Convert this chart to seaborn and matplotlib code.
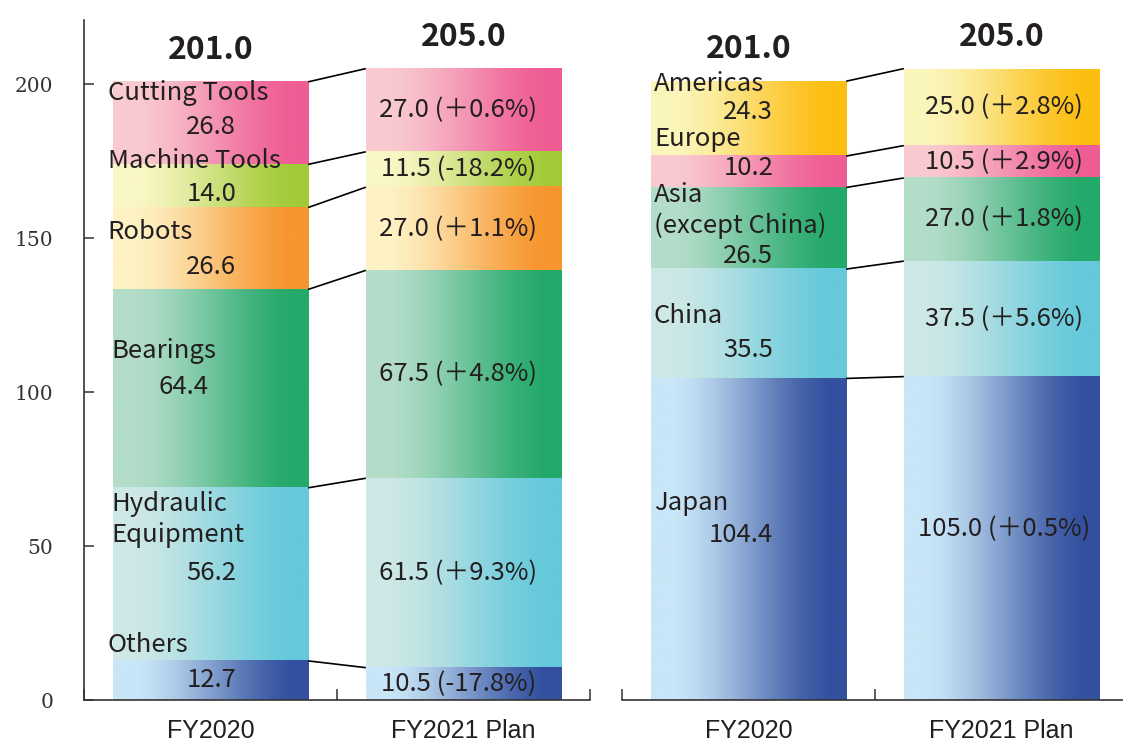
import numpy as np
import matplotlib
matplotlib.use("Agg")
import matplotlib.pyplot as plt
import matplotlib.colors as mcolors
from matplotlib.ticker import FixedLocator
import seaborn as sns

# ---------------- data ----------------
years = ["FY2020", "FY2021 Plan"]

prod_names = ["Others", "Hydraulic\nEquipment", "Bearings", "Robots", "Machine Tools", "Cutting Tools"]
prod_2020 = [12.7, 56.2, 64.4, 26.6, 14.0, 26.8]
prod_2021 = [10.5, 61.5, 67.5, 27.0, 11.5, 27.0]
prod_chg = ["-17.8%", "+9.3%", "+4.8%", "+1.1%", "-18.2%", "+0.6%"]
prod_total = [201.0, 205.0]

reg_names = ["Japan", "China", "Asia\n(except China)", "Europe", "Americas"]
reg_2020 = [104.4, 35.5, 26.5, 10.2, 24.3]
reg_2021 = [105.0, 37.5, 27.0, 10.5, 25.0]
reg_chg = ["+0.5%", "+5.6%", "+1.8%", "+2.9%", "+2.8%"]
reg_total = [201.0, 205.0]

# gradient colours (light -> saturated)
C_PINK = ("#F9CACF", "#EF5D95")
C_LIME = ("#FAF7C6", "#A2CB39")
C_ORNG = ("#FEF1C4", "#F7952E")
C_GRN = ("#B3DDC9", "#24A96A")
C_CYAN = ("#CDE8E6", "#66C9DB")
C_NAVY = ("#C9E6F8", "#33509F")
C_GOLD = ("#FBF6BB", "#FDBE12")
prod_colors = [C_NAVY, C_CYAN, C_GRN, C_ORNG, C_LIME, C_PINK]
reg_colors = [C_NAVY, C_CYAN, C_GRN, C_PINK, C_GOLD]

# ---------------- style ----------------
sns.set_theme(style="white")
plt.rcParams["font.family"] = ["Noto Sans CJK JP", "DejaVu Sans"]
TXT = "#231F20"
LBL_FONT = ["Noto Sans CJK JP", "DejaVu Sans"]
LBL_SIZE = 18.5

fig = plt.figure(figsize=(11.23, 7.42), dpi=100)
ax1 = fig.add_axes([84 / 1123, 42 / 742, 506 / 1123, 680 / 742])
ax2 = fig.add_axes([622 / 1123, 42 / 742, 506 / 1123, 680 / 742])

BW = 0.772
YMAX = 680 / 3.08


def gradient(c):
    l = np.array(mcolors.to_rgb(c[0]))
    d = np.array(mcolors.to_rgb(c[1]))
    t = np.linspace(0, 1, 256)
    f = np.clip((t - 0.12) / 0.80, 0, 1)
    f = f * f * (3 - 2 * f) * 0.6 + f * 0.4
    img = l[None, :] + (d - l)[None, :] * f[:, None]
    return img[None, :, :]


def stacked(ax, v2020, v2021, colors):
    vals = np.array([v2020, v2021])
    cum = np.cumsum(vals, axis=1)
    n = vals.shape[1]
    # draw cumulative bars from tallest to shortest with seaborn
    for i in range(n - 1, -1, -1):
        before = len(ax.patches)
        sns.barplot(x=years, y=cum[:, i], color=colors[i][1], width=BW,
                    errorbar=None, ax=ax, zorder=1, saturation=1)
        pats = ax.patches[before:]
        for j, p in enumerate(pats):
            bottom = cum[j, i - 1] if i > 0 else 0.0
            ax.imshow(gradient(colors[i]), extent=[p.get_x(), p.get_x() + p.get_width(), bottom, cum[j, i]],
                      aspect="auto", interpolation="bilinear", zorder=2)
    # connectors
    for i in range(n):
        ax.plot([BW / 2, 1 - BW / 2], [cum[0, i], cum[1, i]], color="black", lw=1.2, zorder=3,
                solid_capstyle="butt")
    return cum


def style_axes(ax, left_spine):
    ax.set_xlim(-0.5, 1.5)
    ax.set_ylim(0, YMAX)
    ax.set_xlabel("")
    ax.set_ylabel("")
    for s in ["top", "right"]:
        ax.spines[s].set_visible(False)
    ax.spines["left"].set_visible(left_spine)
    for s in ["left", "bottom"]:
        ax.spines[s].set_color("#333333")
        ax.spines[s].set_linewidth(1.2)
    ax.set_xticks([0, 1])
    ax.set_xticklabels(years, fontfamily="Liberation Sans", fontsize=18, color=TXT)
    ax.tick_params(axis="x", which="major", length=0, pad=14)
    ax.xaxis.set_minor_locator(FixedLocator([-0.5, 0.5, 1.5]))
    ax.tick_params(axis="x", which="minor", direction="in", length=8, width=1.1, color="#333333", bottom=True)
    if left_spine:
        ax.set_yticks([0, 50, 100, 150, 200])
        ax.set_yticklabels(["0", "50", "100", "150", "200"], fontfamily="DejaVu Serif", fontsize=14.5,
                           color="#333333")
        ax.tick_params(axis="y", direction="in", length=7, width=1.1, color="#333333", pad=22, left=True)
    else:
        ax.set_yticks([])
    ax.set_facecolor("white")


cum1 = stacked(ax1, prod_2020, prod_2021, prod_colors)
cum2 = stacked(ax2, reg_2020, reg_2021, reg_colors)
style_axes(ax1, True)
style_axes(ax2, False)


def put(ax, x, y, s, ha="left"):
    ax.text(x, y, s, ha=ha, va="center", fontsize=LBL_SIZE, color=TXT, family=LBL_FONT, zorder=5)


# FY2020 labels: (x, y) layout positions for names and values
prod_name_pos = [(-0.406, 17.9), (-0.39, 58.5), (-0.39, 113.3), (-0.406, 151.9), (-0.406, 175.0), (-0.406, 197.1)]
prod_val_pos = [(0.102, 6.5), (0.102, 41.2), (-0.008, 101.6), (0.102, 140.6), (0.102, 164.3), (0.102, 186.0)]
for i in range(len(prod_names)):
    nx, ny = prod_name_pos[i]
    vx, vy = prod_val_pos[i]
    ax1.text(nx, ny, prod_names[i], ha="left", va="center", fontsize=LBL_SIZE, color=TXT, family=LBL_FONT,
             zorder=5, linespacing=1.25)
    put(ax1, vx, vy, f"{prod_2020[i]:.1f}", ha="right")

reg_name_pos = [(-0.374, 64.0), (-0.374, 124.7), (-0.374, 158.9), (-0.374, 182.0), (-0.374, 200.0)]
reg_val_pos = [(0.098, 53.6), (0.098, 113.6), (0.098, 144.2), (0.098, 172.6), (0.098, 190.9)]
for i in range(len(reg_names)):
    nx, ny = reg_name_pos[i]
    vx, vy = reg_val_pos[i]
    ax2.text(nx, ny, reg_names[i], ha="left", va="center", fontsize=LBL_SIZE, color=TXT, family=LBL_FONT,
             zorder=5, linespacing=1.2)
    put(ax2, vx, vy, f"{reg_2020[i]:.1f}", ha="right")


def fmt_chg(v, c):
    return f"{v:.1f} (" + c.replace("+", "＋") + ")"


for i in range(len(prod_2021)):
    mid = cum1[1, i] - prod_2021[i] / 2
    put(ax1, 0.98, mid, fmt_chg(prod_2021[i], prod_chg[i]), ha="center")
for i in range(len(reg_2021)):
    mid = cum2[1, i] - reg_2021[i] / 2
    if i == 0:
        mid += 3
    put(ax2, 1.01, mid, fmt_chg(reg_2021[i], reg_chg[i]), ha="center")

# totals
for ax, tot, cum in [(ax1, prod_total, cum1), (ax2, reg_total, cum2)]:
    for j in range(2):
        ax.annotate(f"{tot[j]:.1f}", xy=(j, cum[j, -1]), xytext=(0, 23), textcoords="offset points",
                    ha="center", va="center", fontsize=23, fontweight="bold", color=TXT,
                    family=LBL_FONT, zorder=6, annotation_clip=False)

fig.savefig("out.png", dpi=100, facecolor="white")
